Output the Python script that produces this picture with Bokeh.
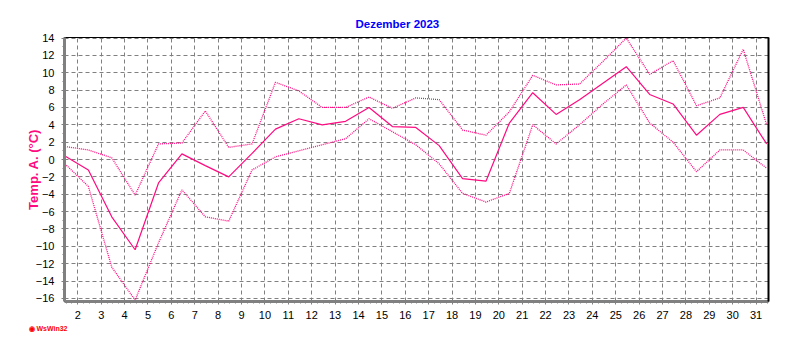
import numpy as np
from bokeh.plotting import figure
from bokeh.models import Range1d, LinearAxis, SingleIntervalTicker, FixedTicker, Title
from bokeh.embed import file_html
from bokeh.resources import INLINE

# ---- data (December 2023, daily air temperature, °C) ----
days = list(range(1, 32))
t_mean = [0.4, -1.2, -6.6, -10.4, -2.7, 0.65, -0.7, -2.0, 0.7, 3.5,
          4.7, 4.0, 4.4, 6.0, 3.8, 3.7, 1.6, -2.2, -2.5, 4.2,
          7.7, 5.2, 6.9, 8.8, 10.7, 7.5, 6.4, 2.8, 5.2, 6.0, 1.8]
t_max = [1.5, 1.1, 0.2, -4.1, 1.8, 1.9, 5.6, 1.4, 1.8, 8.9,
         7.9, 6.0, 6.0, 7.2, 5.9, 7.1, 6.9, 3.4, 2.8, 5.5,
         9.7, 8.6, 8.7, 11.3, 14.0, 9.8, 11.4, 6.2, 7.1, 12.7, 4.0]
t_min = [-0.5, -3.1, -12.4, -16.2, -9.6, -3.5, -6.6, -7.1, -1.2, 0.3,
         1.0, 1.7, 2.4, 4.7, 3.2, 1.7, -0.5, -3.9, -4.9, -3.9,
         4.0, 1.8, 4.0, 6.4, 8.6, 4.2, 2.0, -1.4, 1.1, 1.1, -1.0]
title_text = "Dezember 2023"
y_label = "Temp. A. (°C)"

PINK = "#FF0A80"
FONT = "Liberation Sans"

# daily values plotted at mid-day
xpos = np.array(days) + 0.45

p = figure(frame_width=704, frame_height=264,
           x_range=Range1d(1.43, 31.53), y_range=Range1d(-16.36, 14.06),
           output_backend="svg", toolbar_location=None,
           min_border_left=64, min_border_right=24,
           min_border_top=37, min_border_bottom=49,
           background_fill_color="white", border_fill_color="white")

p.line(xpos, t_max, line_color=PINK, line_width=1.3, line_dash="1 1")
p.line(xpos, t_min, line_color=PINK, line_width=1.3, line_dash="1 1")
p.line(xpos, t_mean, line_color=PINK, line_width=1.2)

# title
p.title.text = title_text
p.title.align = "left"
p.title.offset = 291
p.title.text_color = "#0000FF"
p.title.text_font = FONT
p.title.text_font_style = "bold"
p.title.text_font_size = "11.5px"
p.title.standoff = 15

# axes
xa = p.xaxis[0]
xa.ticker = SingleIntervalTicker(interval=1, num_minor_ticks=4)
ya = p.yaxis[0]
ya.ticker = SingleIntervalTicker(interval=2, num_minor_ticks=2)
for ax in (xa, ya):
    ax.axis_line_color = "#808080"
    ax.axis_line_width = 3
    ax.major_tick_line_color = "#808080"
    ax.minor_tick_line_color = "#808080"
    ax.major_tick_in = 0
    ax.minor_tick_in = 0
    ax.major_tick_out = 3
    ax.minor_tick_out = 2
    ax.major_label_text_font = FONT
    ax.major_label_text_font_size = "11px"
    ax.major_label_text_color = "black"
xa.major_label_standoff = 6
ya.major_label_standoff = 7

ya.axis_label = y_label
ya.axis_label_text_color = PINK
ya.axis_label_text_font = FONT
ya.axis_label_text_font_style = "bold"
ya.axis_label_text_font_size = "13px"
ya.axis_label_standoff = -8

# right border (thick black)
ra = LinearAxis(ticker=FixedTicker(ticks=[]), axis_line_color="black",
                axis_line_width=2, major_label_text_font_size="0px")
p.add_layout(ra, "right")

p.outline_line_color = "black"
p.outline_line_width = 1

# grid
for g in (p.xgrid[0], p.ygrid[0]):
    g.grid_line_color = "#808080"
    g.grid_line_dash = "4 3"
    g.grid_line_width = 1

# watermark
wm = Title(text="\u25c9 WsWin32", align="left", offset=-36,
           text_color="red", text_font=FONT, text_font_style="bold",
           text_font_size="7px", standoff=3)
p.add_layout(wm, "below")

open("out.html", "w").write(file_html(p, INLINE))
